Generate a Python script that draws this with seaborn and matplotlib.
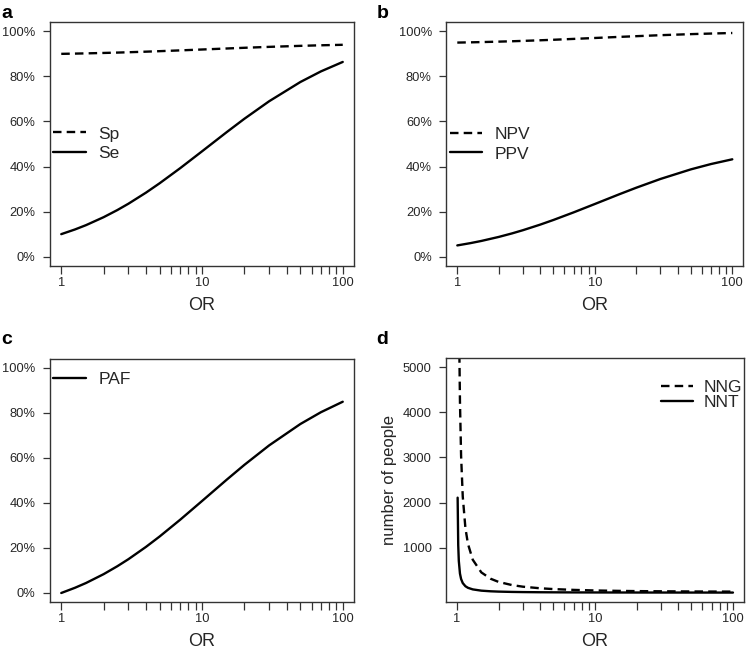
import matplotlib
matplotlib.use("Agg")
import matplotlib.pyplot as plt
import seaborn as sns
from matplotlib.ticker import FixedLocator, FixedFormatter, NullFormatter, PercentFormatter

# ---------------- data ----------------
or_pct = [1, 1.25, 1.5, 2, 2.5, 3, 4, 5, 7, 10, 15, 20, 30, 50, 70, 100]
se = [10.0, 12.07, 14.0, 17.53, 20.67, 23.5, 28.42, 32.58, 39.28, 46.74,
      55.29, 61.19, 68.97, 77.51, 82.22, 86.41]
sp = [90.0, 90.11, 90.21, 90.40, 90.56, 90.71, 90.97, 91.19, 91.54, 91.93,
      92.38, 92.69, 93.10, 93.55, 93.80, 94.02]
ppv = [5.0, 6.03, 7.0, 8.76, 10.33, 11.75, 14.21, 16.29, 19.64, 23.37,
       27.65, 30.59, 34.48, 38.75, 41.11, 43.21]
npv = [95.0, 95.11, 95.22, 95.42, 95.59, 95.75, 96.02, 96.25, 96.63, 97.04,
       97.52, 97.84, 98.28, 98.75, 99.01, 99.25]
paf = [0.0, 2.30, 4.44, 8.36, 11.86, 15.0, 20.47, 25.08, 32.53, 40.82,
       50.32, 56.87, 65.52, 75.01, 80.25, 84.90]

or_nnt = [1.01, 1.02, 1.03, 1.05, 1.07, 1.1, 1.15, 1.2, 1.3, 1.5, 1.75, 2,
          2.5, 3, 4, 5, 7, 10, 15, 20, 30, 50, 70, 100]
nnt = [2108, 1056, 705, 424, 304, 213.5, 143.3, 108.2, 73.1, 45.0, 31.0,
       23.9, 16.9, 13.3, 9.8, 8.0, 6.1, 4.9, 4.0, 3.5, 3.1, 2.7, 2.5, 2.4]
or_nng = [1.04, 1.05, 1.07, 1.1, 1.15, 1.2, 1.3, 1.5, 1.75, 2, 2.5, 3, 4, 5,
          7, 10, 15, 20, 30, 50, 70, 100]
nng = [5290, 4240, 3037, 2135, 1433, 1082, 731, 450, 310, 239, 169, 133,
       98, 80, 62, 49, 40, 35, 31, 27, 25, 24]

x_major = [1, 10, 100]
x_major_labels = ["1", "10", "100"]
x_minor = [2, 3, 4, 5, 6, 7, 8, 9, 20, 30, 40, 50, 60, 70, 80, 90]
pct_ticks = [0, 20, 40, 60, 80, 100]
nn_ticks = [1000, 2000, 3000, 4000, 5000]

# ---------------- style ----------------
sns.set_style("white")
plt.rcParams["font.family"] = ["Liberation Sans", "DejaVu Sans"]
INK = "#262626"
plt.rcParams["text.color"] = INK
plt.rcParams["axes.labelcolor"] = INK
plt.rcParams["xtick.color"] = INK
plt.rcParams["ytick.color"] = INK

W, H = 753, 652
fig = plt.figure(figsize=(W / 100, H / 100), dpi=100)


def px_axes(l, t, r, b):
    return fig.add_axes([l / W, 1 - b / H, (r - l) / W, (b - t) / H])


ax_a = px_axes(50, 22.3, 354, 265.7)
ax_b = px_axes(446.3, 22.3, 743.3, 265.7)
ax_c = px_axes(50, 358.7, 354, 602)
ax_d = px_axes(446, 358.3, 744, 601.7)

LW = 1.7
DASH = (3.6, 2.2)
LEG_FS = 12.5


def style_axes(ax, pct=True):
    ax.set_xscale("log")
    ax.set_xlim(10 ** -0.08, 10 ** 2.08)
    ax.xaxis.set_major_locator(FixedLocator(x_major))
    ax.xaxis.set_major_formatter(FixedFormatter(x_major_labels))
    ax.xaxis.set_minor_locator(FixedLocator(x_minor))
    ax.xaxis.set_minor_formatter(NullFormatter())
    if pct:
        ax.set_ylim(-4, 104)
        ax.yaxis.set_major_locator(FixedLocator(pct_ticks))
        ax.yaxis.set_major_formatter(PercentFormatter(xmax=100, decimals=0))
    for s in ax.spines.values():
        s.set_visible(True)
        s.set_linewidth(1.0)
        s.set_color("#333333")
    ax.tick_params(which="both", direction="out", length=5.4, width=0.9,
                   color="#333333", labelsize=9.3)
    ax.tick_params(axis="x", which="both", pad=2.5, bottom=True, top=False)
    ax.tick_params(axis="y", which="both", pad=5.0, left=True, right=False)
    ax.set_xlabel("OR", fontsize=13, labelpad=6)
    ax.set_ylabel("")


def add_legend(ax, handles, labels, x_px, y_px, hl, htp, ls):
    leg = ax.legend(handles=handles, labels=labels, loc="center left",
                    bbox_to_anchor=(x_px / W, 1 - y_px / H),
                    bbox_transform=fig.transFigure, frameon=False,
                    borderpad=0, borderaxespad=0, handlelength=hl,
                    handletextpad=htp, labelspacing=ls, fontsize=LEG_FS)
    for t in leg.get_texts():
        t.set_color(INK)
    return leg


# ---- panel a ----
style_axes(ax_a)
sns.lineplot(x=or_pct, y=sp, ax=ax_a, color="black", linewidth=LW, legend=False)
sns.lineplot(x=or_pct, y=se, ax=ax_a, color="black", linewidth=LW, legend=False)
la = ax_a.get_lines()
la[0].set_dashes(DASH)
add_legend(ax_a, [la[0], la[1]], ["Sp", "Se"], 53, 143.7, 1.9, 0.72, 0.25)

# ---- panel b ----
style_axes(ax_b)
sns.lineplot(x=or_pct, y=npv, ax=ax_b, color="black", linewidth=LW, legend=False)
sns.lineplot(x=or_pct, y=ppv, ax=ax_b, color="black", linewidth=LW, legend=False)
lb = ax_b.get_lines()
lb[0].set_dashes(DASH)
add_legend(ax_b, [lb[0], lb[1]], ["NPV", "PPV"], 450, 144.2, 1.85, 0.72, 0.25)

# ---- panel c ----
style_axes(ax_c)
sns.lineplot(x=or_pct, y=paf, ax=ax_c, color="black", linewidth=LW, legend=False)
lc = ax_c.get_lines()
add_legend(ax_c, [lc[0]], ["PAF"], 53, 379.3, 1.9, 0.72, 0.25)

# ---- panel d ----
style_axes(ax_d, pct=False)
sns.lineplot(x=or_nng, y=nng, ax=ax_d, color="black", linewidth=LW, legend=False)
sns.lineplot(x=or_nnt, y=nnt, ax=ax_d, color="black", linewidth=LW, legend=False)
ld = ax_d.get_lines()
ld[0].set_dashes(DASH)
ax_d.set_ylim(-200, 5200)
ax_d.yaxis.set_major_locator(FixedLocator(nn_ticks))
ax_d.yaxis.set_major_formatter(FixedFormatter([str(v) for v in nn_ticks]))
ax_d.set_ylabel("number of people", fontsize=12, labelpad=4)
add_legend(ax_d, [ld[0], ld[1]], ["NNG", "NNT"], 661, 394.9, 1.85, 0.6, 0.0)

# ---- panel letters ----
for letter, (x, y) in {"a": (1.5, 17.5), "b": (376.5, 17.5),
                       "c": (1.5, 344), "d": (376.5, 344)}.items():
    fig.text(x / W, 1 - y / H, letter, fontsize=14, fontweight="bold",
             va="baseline", ha="left", color="black")

fig.savefig("out.png", dpi=100)
